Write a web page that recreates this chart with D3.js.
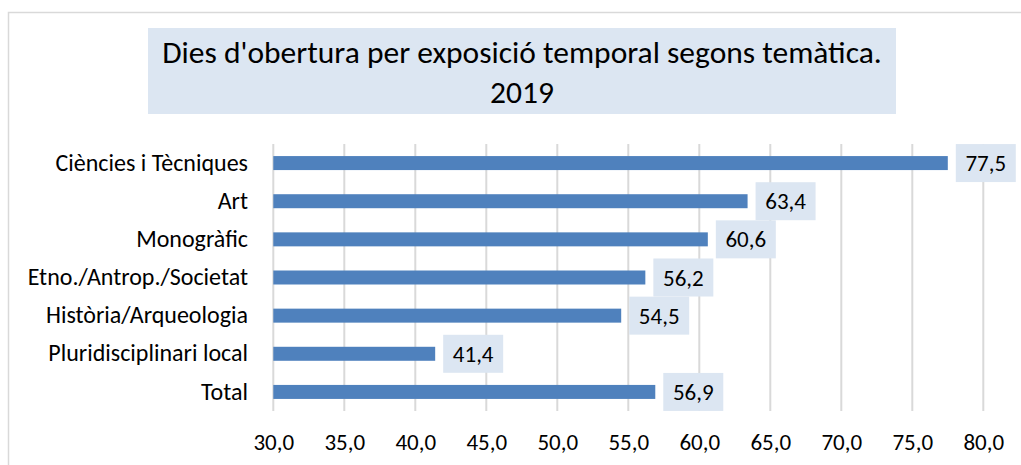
<!DOCTYPE html>
<html>
<head>
<meta charset="utf-8">
<script src="https://cdn.jsdelivr.net/npm/d3@7"></script>
<style>
  html, body { margin: 0; padding: 0; background: #ffffff; }
  svg { display: block; }
  text { font-family: "Carlito", "Lato", "Liberation Sans", sans-serif; fill: #000; }
</style>
</head>
<body>
<svg id="chart" width="1021" height="465"></svg>
<script>
const categories = ["Ciències i Tècniques", "Art", "Monogràfic", "Etno./Antrop./Societat", "Història/Arqueologia", "Pluridisciplinari local", "Total"];
const values = [77.5, 63.4, 60.6, 56.2, 54.5, 41.4, 56.9];
const xTicks = [30, 35, 40, 45, 50, 55, 60, 65, 70, 75, 80];
const titleLines = ["Dies d'obertura per exposició temporal segons temàtica.", "2019"];

const svg = d3.select("#chart");
const fmt = v => d3.format(".1f")(v).replace(".", ",");

// outer chart border
svg.append("rect").attr("x", 8.5).attr("y", 12.5).attr("width", 1030).attr("height", 470)
  .attr("fill", "#fff").attr("stroke", "#d9d9d9").attr("stroke-width", 1.5);

// title box
svg.append("rect").attr("x", 148).attr("y", 28).attr("width", 748).attr("height", 86).attr("fill", "#dce6f2");
titleLines.forEach((t, i) => {
  svg.append("text").attr("x", 522).attr("y", 63 + i * 40)
    .attr("text-anchor", "middle").style("font-size", "31.5px").text(t);
});

const x = d3.scaleLinear().domain([30, 80]).range([273.3, 983.3]);
const y = d3.scaleBand().domain(categories).range([144, 411]).paddingInner(0.633).paddingOuter(0.3165);

// gridlines
svg.append("g").selectAll("line").data(xTicks).join("line")
  .attr("x1", d => x(d)).attr("x2", d => x(d)).attr("y1", 144).attr("y2", 411)
  .attr("stroke", "#d9d9d9").attr("stroke-width", 2);

// x axis labels
const xAxis = d3.axisBottom(x).tickValues(xTicks).tickFormat(fmt).tickSize(0).tickPadding(0);
const gx = svg.append("g").attr("transform", "translate(0,450)").call(xAxis);
gx.select(".domain").remove();
gx.selectAll("text").style("font-size", "23px").style("font-family", "Carlito, Lato, sans-serif").attr("dy", "0").attr("y", 0);

// y axis labels
const yAxis = d3.axisLeft(y).tickSize(0).tickPadding(0);
const gy = svg.append("g").attr("transform", "translate(248,0)").call(yAxis);
gy.select(".domain").remove();
gy.selectAll("text").style("font-size", "24px").style("font-family", "Carlito, Lato, sans-serif");

// bars
svg.append("g").selectAll("rect").data(values).join("rect")
  .attr("x", x(30)).attr("y", (d, i) => y(categories[i]))
  .attr("width", d => x(d) - x(30)).attr("height", y.bandwidth())
  .attr("fill", "#4f81bd");

// value labels
const lab = svg.append("g").selectAll("g").data(values).join("g")
  .attr("transform", (d, i) => `translate(${x(d) + 8},${y(categories[i]) + y.bandwidth() / 2})`);
lab.append("rect").attr("x", 0).attr("y", -19).attr("width", 60).attr("height", 38).attr("fill", "#dce6f2");
lab.append("text").attr("x", 30).attr("y", 0).attr("dy", "0.35em").attr("text-anchor", "middle")
  .style("font-size", "23px").text(d => fmt(d));
</script>
</body>
</html>
